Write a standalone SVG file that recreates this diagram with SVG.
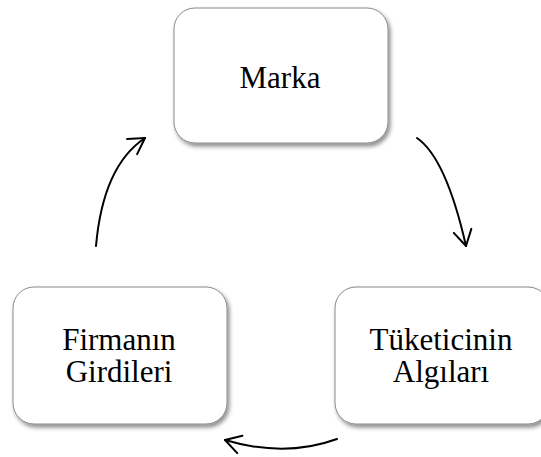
<svg xmlns="http://www.w3.org/2000/svg" width="541" height="457" viewBox="0 0 541 457">
  <style>
    .box { fill: #ffffff; stroke: #8a8a8a; stroke-width: 1; filter: url(#shadow); }
    .label { font-family: "Liberation Serif", "Times New Roman", serif; font-size: 31px; fill: #000000; text-anchor: middle; }
    .conn { fill: none; stroke: #000000; stroke-width: 2; stroke-linecap: round; marker-end: url(#arrow); }
  </style>
  <defs>
    <filter id="shadow" x="-10%" y="-10%" width="125%" height="130%">
      <feDropShadow dx="2" dy="3" stdDeviation="2" flood-color="#000000" flood-opacity="0.45"/>
    </filter>
    <marker id="arrow" markerUnits="userSpaceOnUse" viewBox="0 0 20 22" refX="17" refY="11" markerWidth="20" markerHeight="22" orient="auto">
      <path d="M1.5,2 L17,11 L1.5,20" fill="none" stroke="#000000" stroke-width="2" stroke-linecap="round" stroke-linejoin="round"/>
    </marker>
  </defs>
  <rect width="541" height="457" fill="#ffffff"/>
  <g id="connectors">
    <path class="conn" d="M417,138 Q446,158 466,246"/>
    <path class="conn" d="M337,439 Q285,458 225,440"/>
    <path class="conn" d="M96,246 Q103,166 145,138"/>
  </g>
  <g id="node-marka">
    <rect class="box" x="174" y="8" width="214" height="135" rx="21" ry="21"/>
    <text class="label" font-family="Liberation Serif, serif" x="280" y="88">Marka</text>
  </g>
  <g id="node-tuketici">
    <rect class="box" x="335" y="287" width="214" height="137" rx="21" ry="21"/>
    <text class="label" font-family="Liberation Serif, serif" x="441" y="350">Tüketicinin</text>
    <text class="label" font-family="Liberation Serif, serif" x="441" y="382">Algıları</text>
  </g>
  <g id="node-firma">
    <rect class="box" x="13" y="287" width="214" height="137" rx="21" ry="21"/>
    <text class="label" font-family="Liberation Serif, serif" x="119" y="350">Firmanın</text>
    <text class="label" font-family="Liberation Serif, serif" x="119" y="382">Girdileri</text>
  </g>
</svg>
